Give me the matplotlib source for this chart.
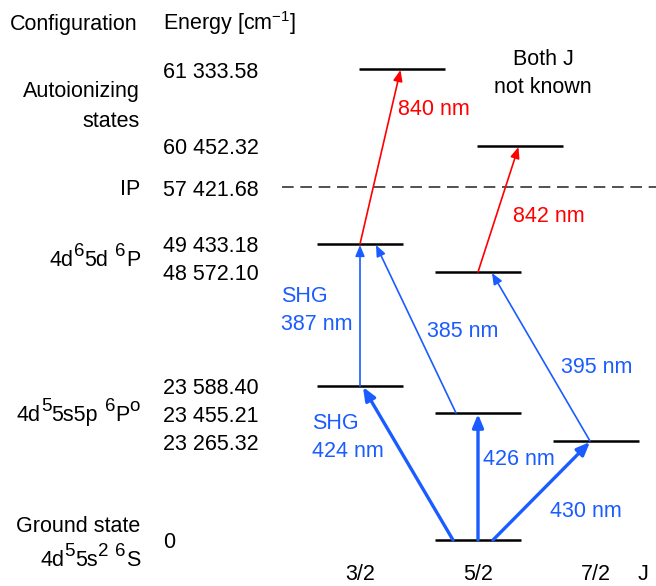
import matplotlib
matplotlib.use('Agg')
import matplotlib.pyplot as plt

plt.rcParams['font.family'] = ['Liberation Sans', 'DejaVu Sans']
plt.rcParams['font.size'] = 15.5
plt.rcParams['mathtext.fontset'] = 'custom'
plt.rcParams['mathtext.rm'] = 'Liberation Sans'
plt.rcParams['mathtext.it'] = 'Liberation Sans:italic'

# energy levels (cm^-1), J column (None = unknown J), schematic height
level_energy = ['61 333.58', '60 452.32', '49 433.18', '48 572.10',
                '23 588.40', '23 455.21', '23 265.32', '0']
level_J = [None, None, 1.5, 2.5, 1.5, 2.5, 3.5, 2.5]
level_row = [69, 146, 244, 272, 386, 413, 441, 540]
unknown_col = [0.36, 1.36]      # placement of the unknown-J levels

ip_energy = '57 421.68'
ip_row = 187

# transitions: lower level, upper level, label, colour, thick
trans_lower = [7, 7, 7, 4, 5, 6, 2, 3]
trans_upper = [4, 5, 6, 2, 2, 3, 0, 1]
trans_label = ['SHG\n424 nm', '426 nm', '430 nm', 'SHG\n387 nm',
               '385 nm', '395 nm', '840 nm', '842 nm']
trans_colour = ['#1a5cff'] * 6 + ['#ff0000'] * 2
trans_thick = [True, True, True, False, False, False, False, False]

J_ticks = ['3/2', '5/2', '7/2']

# configuration labels as (text, superscript) pieces
config_pieces = [
    [('Autoionizing', 0)],
    [('states', 0)],
    [('IP', 0)],
    [('4d', 0), ('6', 1), ('5d', 0), (' ', 0), ('6', 1), ('P', 0)],
    [('4d', 0), ('5', 1), ('5s5p', 0), (' ', 0), ('6', 1), ('P', 0), ('o', 1)],
    [('Ground state', 0)],
    [('4d', 0), ('5', 1), ('5s', 0), ('2', 1), (' ', 0), ('6', 1), ('S', 0)],
]
config_base = [97, 127, 195, 266, 421, 532, 566]

# layout (pixels)
COL0, STEP, HALF = 360, 118, 43
LINE_GAP = 28
SUP_SIZE, SUP_RISE, SPACE_W = 13.5, 10, 7
# arrow foot / head offsets from the column centre of each level
foot_dx = [-25, 0, 15, 0, -22, -6, 0, 0]
head_dx = [3, 0, -6, 0, 16, 14, -2, -2]
label_xy = [(312, 429), (483, 465), (550, 517), (281, 302),
            (427, 337), (561, 373), (398, 115), (513, 222)]


def level_x(i):
    if level_J[i] is None:
        return COL0 + STEP * unknown_col[level_J[:i].count(None)]
    return COL0 + STEP * (level_J[i] - 1.5)


fig = plt.figure(figsize=(6.56, 5.86), dpi=100)
ax = fig.add_axes([0, 0, 1, 1])
ax.set_xlim(0, 656)
ax.set_ylim(586, 0)
ax.axis('off')
renderer = fig.canvas.get_renderer()


def right_aligned_pieces(x, y, pieces):
    # lay out from right to left so the label ends at x
    for text, sup in reversed(pieces):
        if text == ' ':
            x -= SPACE_W
            continue
        t = ax.text(x, y - SUP_RISE * sup, text, ha='right', va='baseline',
                    fontsize=SUP_SIZE if sup else None)
        x -= t.get_window_extent(renderer).width


# level lines
for i, row in enumerate(level_row):
    xc = level_x(i)
    ax.plot([xc - HALF, xc + HALF], [row, row], color='black', lw=1.8,
            solid_capstyle='butt')
    ax.text(163, row + 8.5, level_energy[i], ha='left', va='baseline')

# ionisation potential
ax.plot([282, 656], [ip_row, ip_row], color='#333333', lw=1.2,
        dashes=(7, 4))
ax.text(163, ip_row + 8.5, ip_energy, ha='left', va='baseline')

# transitions
for k in range(len(trans_lower)):
    lo, up = trans_lower[k], trans_upper[k]
    x0 = level_x(lo) + foot_dx[k]
    x1 = level_x(up) + head_dx[k]
    lw = 2.4 if trans_thick[k] else 1.2
    ms = 13 if trans_thick[k] else 11
    ax.annotate('', xy=(x1, level_row[up] + 1), xytext=(x0, level_row[lo]),
                arrowprops=dict(arrowstyle='-|>,head_length=0.6,head_width=0.25',
                                color=trans_colour[k], lw=lw,
                                mutation_scale=ms, shrinkA=0, shrinkB=0))
    lx, ly = label_xy[k]
    for n, line in enumerate(trans_label[k].split('\n')):
        ax.text(lx, ly + n * LINE_GAP, line, color=trans_colour[k],
                ha='left', va='baseline')

# headers and column labels
ax.text(10, 30, 'Configuration', ha='left', va='baseline')
ax.text(163, 30, 'Energy [cm$^{-1}$]', ha='left', va='baseline')
for pieces, base in zip(config_pieces, config_base):
    right_aligned_pieces(140, base, pieces)

for n, line in enumerate(['Both J', 'not known']):
    ax.text(543, 65 + n * LINE_GAP, line, ha='center', va='baseline')

for j, lab in enumerate(J_ticks):
    ax.text(COL0 + STEP * j, 580, lab, ha='center', va='baseline')
ax.text(643, 580, 'J', ha='center', va='baseline')

fig.savefig('out.png', dpi=100)
